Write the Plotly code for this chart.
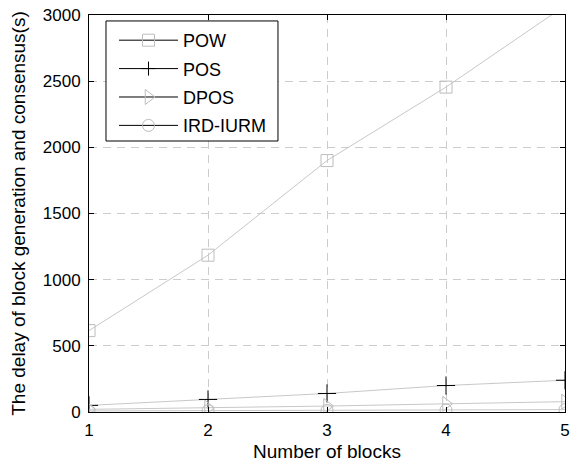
import plotly.graph_objects as go

# Block counts on the x axis
blocks = [1, 2, 3, 4, 5]

# Delay of block generation and consensus (s) per mechanism
pow_delay = [615, 1185, 1900, 2455, 3070]
pos_delay = [50, 95, 140, 200, 240]
dpos_delay = [20, 32, 45, 62, 78]
ird_delay = [8, 10, 12, 15, 18]

series_names = ["POW", "POS", "DPOS", "IRD-IURM"]
x_ticks = [1, 2, 3, 4, 5]
y_ticks = [0, 500, 1000, 1500, 2000, 2500, 3000]

FONT = "Liberation Sans, Arial, sans-serif"
LINE_GRAY = "#c8c8c8"
MARK_GRAY = "#bdbdbd"

symbols = ["square-open", "cross-thin", "triangle-right-open", "circle-open"]
marker_colors = [MARK_GRAY, "black", MARK_GRAY, MARK_GRAY]
plot_sizes = [12, 13, 13, 12]
legend_sizes = [12, 10, 13, 12]
values = [pow_delay, pos_delay, dpos_delay, ird_delay]

fig = go.Figure()

for name, ys, sym, col, sz in zip(series_names, values, symbols, marker_colors, plot_sizes):
    fig.add_trace(go.Scatter(
        x=blocks, y=ys, mode="lines+markers", name=name,
        line=dict(color=LINE_GRAY, width=1),
        marker=dict(symbol=sym, size=sz, color=col, line=dict(width=1, color=col)),
        showlegend=False,
    ))

# Legend entries: black line through the series marker
for i, (name, sym, col, sz) in enumerate(zip(series_names, symbols, marker_colors, legend_sizes)):
    fig.add_trace(go.Scatter(
        x=[None], y=[None], mode="lines+markers", name=name,
        line=dict(color="black", width=1),
        marker=dict(symbol=sym, size=sz, color=col, line=dict(width=1, color=col)),
        legendgroup=f"g{i}", showlegend=True,
    ))

axis_common = dict(
    showline=True, linecolor="black", linewidth=1, mirror="ticks",
    ticks="inside", ticklen=5, tickcolor="black",
    showgrid=True, gridcolor="#cccccc", griddash="8px,6px", gridwidth=1,
    zeroline=False, automargin=False,
    tickfont=dict(family=FONT, size=17, color="black"),
)

fig.update_layout(
    width=572, height=466,
    margin=dict(l=89, r=7, t=15, b=54),
    paper_bgcolor="white", plot_bgcolor="white",
    font=dict(family=FONT, size=17, color="black"),
    xaxis=dict(axis_common, range=[1, 5], tickvals=x_ticks, ticklabelstandoff=3,
               title=dict(text="Number of blocks", font=dict(family=FONT, size=19), standoff=5)),
    yaxis=dict(axis_common, range=[0, 3000], tickvals=y_ticks, ticklabelstandoff=4,
               title=dict(text="The delay of block generation and consensus(s)",
                          font=dict(family=FONT, size=19), standoff=12)),
    legend=dict(
        x=0.0525, y=0.9824, xanchor="left", yanchor="top",
        bgcolor="rgba(0,0,0,0)", borderwidth=0,
        font=dict(family=FONT, size=18, color="black"),
        itemwidth=59, tracegroupgap=2,
    ),
    # legend frame with white fill over the grid
    shapes=[dict(
        type="rect", xref="paper", yref="paper",
        x0=0.0357, x1=0.397, y0=0.6826, y1=0.985,
        line=dict(color="black", width=1), fillcolor="white", layer="above",
    )],
)

fig.write_html("out.html")
